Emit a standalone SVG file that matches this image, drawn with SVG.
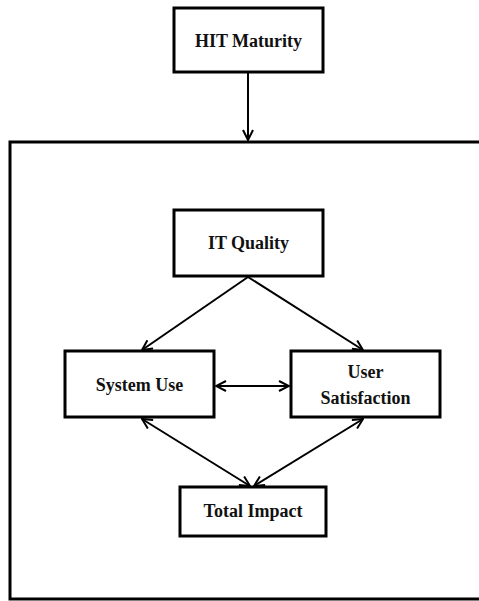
<svg xmlns="http://www.w3.org/2000/svg" width="479" height="601" viewBox="0 0 479 601">
  <style>
    .box { fill: #fff; stroke: #000; stroke-width: 3; }
    .lbl { font-family: "Liberation Serif", "Times New Roman", serif; font-weight: bold; font-size: 18px; fill: #111; text-anchor: middle; }
    .conn { stroke: #000; stroke-width: 2; fill: none; }
  </style>
  <defs>
    <marker id="arrow" viewBox="0 0 12 12" refX="11" refY="6" markerWidth="12" markerHeight="12" markerUnits="userSpaceOnUse" orient="auto-start-reverse">
      <path d="M1,1 L11,6 L1,11" fill="none" stroke="#000" stroke-width="2"/>
    </marker>
  </defs>
  <rect width="479" height="601" fill="#fff"/>

  <!-- outer frame (open on the right) -->
  <path d="M481,142 L10,142 L10,599 L481,599" fill="none" stroke="#000" stroke-width="3"/>

  <g id="connectors">
    <line class="conn" x1="248" y1="73" x2="248" y2="140" marker-end="url(#arrow)"/>
    <line class="conn" x1="248" y1="277" x2="142" y2="350" marker-end="url(#arrow)"/>
    <line class="conn" x1="248" y1="277" x2="363" y2="350" marker-end="url(#arrow)"/>
    <line class="conn" x1="216" y1="386" x2="289" y2="386" marker-start="url(#arrow)" marker-end="url(#arrow)"/>
    <line class="conn" x1="142" y1="419" x2="250" y2="486" marker-start="url(#arrow)" marker-end="url(#arrow)"/>
    <line class="conn" x1="363" y1="419" x2="254" y2="486" marker-start="url(#arrow)" marker-end="url(#arrow)"/>
  </g>

  <g id="hit-maturity">
    <rect class="box" x="174" y="8" width="149" height="64"/>
    <text class="lbl" x="248.5" y="47">HIT Maturity</text>
  </g>
  <g id="it-quality">
    <rect class="box" x="174" y="210" width="149" height="66"/>
    <text class="lbl" x="248.5" y="249">IT Quality</text>
  </g>
  <g id="system-use">
    <rect class="box" x="65" y="351" width="149" height="66"/>
    <text class="lbl" x="139.5" y="391">System Use</text>
  </g>
  <g id="user-satisfaction">
    <rect class="box" x="291" y="351" width="149" height="66"/>
    <text class="lbl" x="365.5" y="378">User</text>
    <text class="lbl" x="365.5" y="404">Satisfaction</text>
  </g>
  <g id="total-impact">
    <rect class="box" x="180" y="487" width="146" height="49"/>
    <text class="lbl" x="253" y="517">Total Impact</text>
  </g>
</svg>
